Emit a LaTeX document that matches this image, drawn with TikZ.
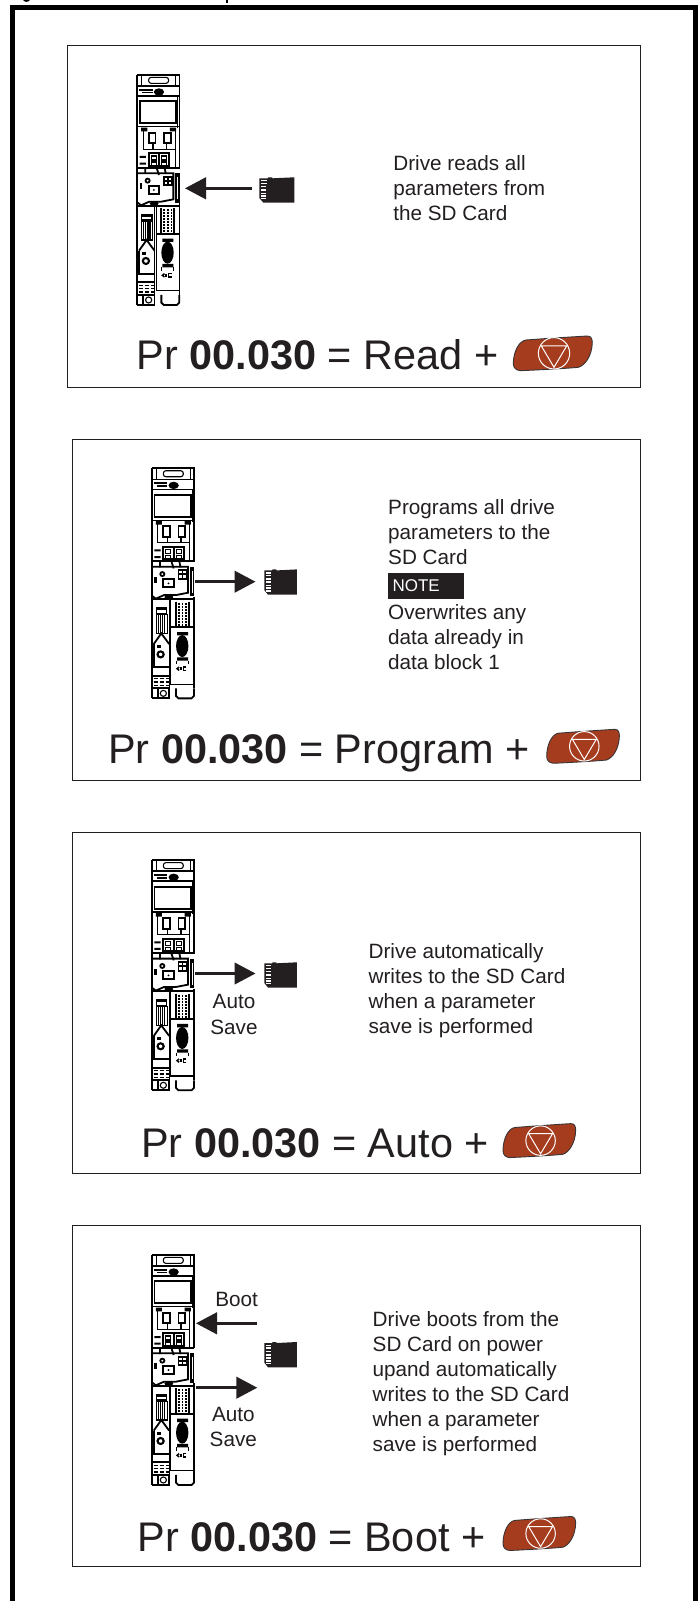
\documentclass[tikz,border=0pt]{standalone}
\usepackage{fontspec}
\setmainfont{Liberation Sans}
\usetikzlibrary{arrows.meta}
\definecolor{ink}{HTML}{231F20}
\definecolor{stopred}{HTML}{A63C1E}
\tikzset{
  panel/.style={draw=ink,line width=.9pt},
  bodytext/.style={anchor=base west,inner sep=0pt,align=left,text=ink,font=\fontsize{20.7}{25}\selectfont},
  bigtext/.style={anchor=base west,inner sep=0pt,text=ink,font=\fontsize{41.4}{45}\selectfont},
  labeltext/.style={anchor=base,inner sep=0pt,text=ink,font=\fontsize{20.7}{25}\selectfont},
  arr/.style={draw=ink,line width=2.8pt,-{Triangle[length=21pt,width=21.5pt]}},
  ln/.style={draw=black,line width=1.1pt},
  thk/.style={draw=black,line width=1.8pt},
  drivepic/.pic={
    \begin{scope}[x=.3333pt,y=-.3333pt,xscale=1.03,shift={(-52,-42)}]
      % casing
      \draw[thk] (55,44) -- (55,735);
      \draw[thk] (55,44) -- (178,44) -- (178,325);
      \draw[ln] (68,44) -- (68,76) (166,44) -- (166,76);
      \draw[ln,rounded corners=2.5pt] (88,52) rectangle (146,70);
      \draw[thk] (56,78) -- (178,78);
      \fill[black] (60,86) rectangle (100,92);
      \fill[black] (118,96) ellipse [x radius=15,y radius=11];
      \fill[black] (70,96) rectangle (100,100);
      \draw[thk] (56,108) -- (178,108);
      % display
      \draw[thk] (62,124) rectangle (168,190);
      \draw[ln] (172,108) -- (172,205);
      \draw[ln] (56,200) -- (178,200);
      % upper connectors
      \fill[black] (66,203) rectangle (84,214) (150,203) rectangle (168,214);
      \draw[ln] (72,205) -- (72,268) -- (165,268) -- (165,205);
      \draw[thk] (88,218) rectangle (108,250) (132,218) rectangle (152,250);
      \draw[thk] (100,250) -- (100,268) (140,250) -- (140,268);
      \draw[thk] (88,280) rectangle (148,318);
      \draw[thk] (118,280) -- (118,318);
      \draw[ln] (95,288) rectangle (110,300) (95,306) rectangle (110,316) (125,288) rectangle (140,300) (125,306) rectangle (140,316);
      \fill[black] (62,288) rectangle (80,294) (62,308) rectangle (80,314);
      \draw[ln] (165,270) -- (165,322);
      \draw[thk] (56,324) -- (178,324);
      \draw[thk] (78,326) -- (78,342) (112,326) -- (118,345) (135,326) -- (138,342);
      % control module
      \draw[thk] (56,340) -- (160,340) -- (160,418) -- (125,425) -- (90,425) -- (66,436) -- (56,428);
      \draw[thk] (85,362) circle (6);
      \fill[black] (62,370) rectangle (69,388);
      \draw[thk] (88,378) rectangle (118,402);
      \fill[black] (103,390) circle (3);
      \draw[thk] (132,350) rectangle (156,376) (144,350) -- (144,376) (132,363) -- (156,363);
      \fill[black] (166,340) rectangle (178,428);
      \fill[white] (171,352) rectangle (174,418);
      \fill[black] (104,431) ellipse [x radius=13,y radius=7];
      \draw[thk] (56,438) -- (178,438);
      % lower left column
      \draw[ln] (105,438) -- (105,705);
      \fill[black] (66,462) rectangle (100,482);
      \fill[white] (70,470) rectangle (96,478);
      \draw[ln] (68,484) rectangle (100,540);
      \foreach \hx in {74,80,86,92} {\draw[ln] (\hx,484) -- (\hx,540);}
      \draw[thk] (60,572) -- (82,540) -- (105,572);
      \draw[thk] (60,572) -- (60,640);
      \fill[black] (70,576) rectangle (80,584);
      \draw[line width=2.1pt] (80,603) circle (9);
      \draw[thk] (56,641) -- (105,641);
      \draw[thk] (56,667) -- (105,667);
      \draw[line width=1.4pt,dash pattern=on 4pt off 2pt] (60,676) -- (104,676) (60,686) -- (104,686) (60,696) -- (104,696);
      \draw[thk] (56,705) -- (105,705);
      \draw[thk] (72,705) -- (72,735) -- (55,735);
      \draw[thk] (72,735) -- (105,735) -- (105,705);
      \draw[ln] (88,720) circle (9);
      % lower right column
      \draw[ln] (110,440) -- (110,692) -- (178,692);
      \draw[thk] (178,430) -- (178,705);
      \draw[thk] (125,705) -- (125,728) -- (132,735) -- (170,735) -- (177,728) -- (177,705);
      \draw[thk] (125,445) -- (125,522) -- (162,522) -- (162,445);
      \draw[line width=1.4pt,dash pattern=on 2pt off 1pt] (133,448) -- (133,520) (144,448) -- (144,520) (154,448) -- (154,520);
      \draw[thk] (110,522) -- (178,522);
      \fill[black] (143,578) ellipse [x radius=18,y radius=33];
      \fill[black] (128,536) rectangle (160,546) (128,612) rectangle (160,622);
      \draw[ln] (125,622) -- (125,632) (160,622) -- (160,632);
      \draw[line width=1.5pt] (134,641) -- (128,646) -- (134,651);
      \draw[line width=1.5pt] (139,641) -- (139,651);
      \draw[line width=1.5pt] (155,641) -- (146,641) -- (146,651) -- (155,651);
    \end{scope}
  },
  sdcard/.pic={
    \begin{scope}[x=.3333pt,y=-.3333pt]
      \fill[ink] (0,3) -- (25,3) -- (27,0) -- (38,0) -- (40,3) -- (105,0) -- (105,76) -- (12,76) -- (0,62) -- cycle;
      \foreach \ry/\rw in {8/18,16/18,26/16,36/16,46/16,54/16,62/15} {
        \fill[white] (5,\ry) rectangle ++(\rw,4.5);
      }
    \end{scope}
  },
  stopbutton/.pic={
    \begin{scope}[x=.3333pt,y=-.3333pt]
      \draw[fill=stopred,draw=ink!90,line width=.9pt] (0,84)
        .. controls (0,45) and (18,15) .. (38,12)
        .. controls (90,8) and (170,3) .. (222,0)
        .. controls (234,0) and (237,10) .. (237,20)
        .. controls (236,60) and (215,88) .. (195,94)
        .. controls (150,98) and (70,102) .. (22,104)
        .. controls (8,103) and (1,96) .. (0,84) -- cycle;
    \end{scope}
  },
  stopicon/.pic={
    \begin{scope}[x=.3333pt,y=-.3333pt]
      \draw[white,line width=1pt] (0,0) circle (47);
      \draw[white,line width=1pt] (-38,-22) -- (38,-22) -- (0,42) -- cycle;
    \end{scope}
  }
}
\begin{document}
\begin{tikzpicture}[x=1pt,y=-1pt]
\useasboundingbox (0,0) rectangle (698,1601);
\fill[white] (0,0) rectangle (698,1601);
% clipped remains of the heading above the frame
\fill[black] (23,0) .. controls (25,2.5) and (28,2.5) .. (30,0) -- cycle;
\fill[black] (226,0) rectangle (228,2.5);
% outer frame
\draw[black,line width=5pt] (12.5,1601) -- (12.5,7.5) -- (695.2,7.5) -- (695.2,1601);

% panels
\draw[panel] (67.5,45.5) rectangle (640,387);
\draw[panel] (72.5,439) rectangle (640,780.5);
\draw[panel] (72.5,832.2) rectangle (640,1173.6);
\draw[panel] (72.5,1225.1) rectangle (640,1566);

% drives
\pic at (136.3,74) {drivepic};
\pic at (151,467.4) {drivepic};
\pic at (151,859.3) {drivepic};
\pic at (151,1254) {drivepic};

% cards
\pic at (259.3,177.3) {sdcard};
\pic[xscale=.93] at (264.3,569.4) {sdcard};
\pic[xscale=.93] at (264.3,962.3) {sdcard};
\pic[xscale=.93] at (264.3,1342) {sdcard};

% arrows
\coordinate (a1s) at (251.7,188.3); \coordinate (a1e) at (185,188.3);
\coordinate (a2s) at (195,581.7);   \coordinate (a2e) at (255.5,581.7);
\coordinate (a3s) at (195,973.5);   \coordinate (a3e) at (255.5,973.5);
\coordinate (a4s) at (257.3,1323.3);\coordinate (a4e) at (196,1323.3);
\coordinate (a5s) at (195.7,1387.7);\coordinate (a5e) at (257.3,1387.7);
\draw[arr] (a1s) -- (a1e);
\draw[arr] (a2s) -- (a2e);
\draw[arr] (a3s) -- (a3e);
\draw[arr] (a4s) -- (a4e);
\draw[arr] (a5s) -- (a5e);

% arrow labels
\node[labeltext] (l3a) at (234,1008.5) {Auto};
\node[labeltext] (l3b) at (234,1034) {Save};
\node[labeltext] (l4a) at (236.7,1306) {Boot};
\node[labeltext] (l4b) at (233.3,1421) {Auto};
\node[labeltext] (l4c) at (233.3,1446) {Save};

% descriptions (each anchored at the baseline of its last line)
\node[bodytext] (t1) at (393.2,220) {Drive reads all\\parameters from\\the SD Card};
\node[bodytext] (t2a) at (388,564) {Programs all drive\\parameters to the\\SD Card};
\fill[ink] (388,573.3) rectangle (464,599);
\node[anchor=base west,inner sep=0pt,text=white,font=\fontsize{17}{20}\selectfont] (note) at (392.3,591.7) {NOTE};
\node[bodytext] (t2b) at (388,669) {Overwrites any\\data already in\\data block 1};
\node[bodytext] (t3) at (368.4,1033) {Drive automatically\\writes to the SD Card\\when a parameter\\save is performed};
\node[bodytext] (t4) at (372.5,1451) {Drive boots from the\\SD Card on power\\upand automatically\\writes to the SD Card\\when a parameter\\save is performed};

% parameter lines
\node[bigtext] (b1) at (136.7,369.5) {Pr \textbf{00.030} = Read +};
\node[bigtext] (b2) at (108,763.6) {Pr \textbf{00.030} = Program +};
\node[bigtext] (b3) at (141,1157) {Pr \textbf{00.030} = Auto +};
\node[bigtext] (b4) at (137.5,1551) {Pr \textbf{00.030} = Boot +};

% stop buttons
\pic at (513.3,336) {stopbutton};
\pic at (554,353.3) {stopicon};
\pic[xscale=.92,yscale=.98] at (546.7,729.3) {stopbutton};
\pic[scale=.94] at (584.3,746.3) {stopicon};
\pic[xscale=.92,yscale=.98] at (503,1123.6) {stopbutton};
\pic[scale=.94] at (540.6,1140.6) {stopicon};
\pic[xscale=.92,yscale=.98] at (503,1516.5) {stopbutton};
\pic[scale=.94] at (540.6,1533.5) {stopicon};
\end{tikzpicture}
\end{document}
